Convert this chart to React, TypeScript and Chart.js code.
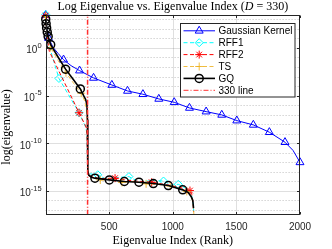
import React, { useEffect, useRef } from 'react';
import { Chart, registerables } from 'chart.js';
import { drawPoint } from 'chart.js/helpers';

Chart.register(...registerables);

// ---- axis settings ----
const X_MIN = 0;
const X_MAX = 2000;
const Y_MIN = 3.16e-18;
const Y_MAX = 3.16e3;
const xTicks = [500, 1000, 1500, 2000];
const yMajorExp = [0, -5, -10, -15];
const yMinorExp = [3, 2, 1, -1, -2, -3, -4, -6, -7, -8, -9, -11, -12, -13, -14, -16, -17];
const lineX = 330;

// ---- Gaussian Kernel ----
const gaussIdx = [1, 8, 15, 23, 60, 100, 141, 200, 267, 377, 521, 644, 765, 890, 1011, 1131, 1262, 1385, 1503, 1633, 1759, 1882, 1945, 2000];
const gaussVal = [2.8e3, 1.6e2, 3.2e1, 1.1e1, 1.1e0, 2.5e-1, 5.9e-2, 1.4e-2, 4.2e-3, 7.2e-4, 1.3e-4, 3.1e-5, 1.4e-5, 4.5e-6, 2.0e-6, 5.1e-7, 2.1e-7, 9.5e-8, 2.4e-8, 8.5e-9, 1.45e-9, 1.3e-10, 1.8e-11, 1.0e-12];
const gaussMark = [1, 0, 0, 1, 0, 0, 1, 0, 1, 1, 1, 1, 1, 1, 1, 1, 1, 1, 1, 1, 1, 1, 0, 1];

// ---- RFF1 ----
const rff1Idx = [1, 6, 15, 105, 263, 318, 326, 330, 345, 410, 480, 560, 655, 740, 830, 927, 990, 1043, 1100, 1145, 1160, 1164];
const rff1Val = [3.2e3, 2.0e2, 6.3e0, 6.3e-4, 1.6e-7, 4.0e-9, 6.3e-10, 1.6e-13, 6.3e-14, 5.0e-14, 1.6e-14, 2.5e-14, 3.2e-14, 7.9e-15, 1.26e-14, 1.1e-14, 4.0e-15, 5.0e-15, 2.0e-15, 5.0e-16, 6.3e-17, 7.9e-18];
const rff1Mark = [1, 0, 0, 1, 1, 0, 0, 0, 0, 1, 0, 0, 1, 0, 0, 1, 0, 1, 0, 0, 0, 0];

// ---- RFF2 ----
const rff2Idx = [1, 5, 12, 29, 263, 318, 326, 330, 340, 420, 546, 650, 750, 834, 950, 1050, 1135, 1150, 1160, 1164];
const rff2Val = [2.5e3, 2.0e2, 1.6e1, 4.5e-1, 1.6e-7, 5.0e-9, 1.0e-9, 1.26e-13, 4.0e-14, 2.0e-14, 2.2e-14, 1.26e-14, 1.0e-14, 8.3e-15, 4.5e-15, 2.5e-15, 1.1e-15, 4.0e-16, 5.0e-17, 6.3e-18];
const rff2Mark = [1, 0, 0, 0, 1, 0, 0, 0, 0, 0, 1, 0, 0, 1, 0, 0, 1, 0, 0, 0];

// ---- TS ----
const tsIdx = [1, 5, 12, 40, 100, 160, 220, 280, 305, 320, 327, 331, 335, 360, 430, 520, 600, 700, 790, 880, 980, 1060, 1110, 1145, 1160, 1166];
const tsVal = [2.0e3, 3.2e2, 4.0e1, 1.1e0, 4.5e-2, 2.5e-3, 2.0e-4, 1.8e-5, 3.2e-6, 5.0e-7, 3.2e-8, 1.0e-12, 5.0e-14, 2.5e-14, 1.4e-14, 1.8e-14, 7.9e-15, 1.0e-14, 5.6e-15, 5.0e-15, 3.2e-15, 1.6e-15, 8.9e-16, 3.2e-16, 4.0e-17, 3.2e-18];
const tsMark = [1, 0, 0, 1, 0, 1, 0, 1, 0, 0, 0, 0, 0, 0, 1, 0, 1, 0, 1, 0, 1, 0, 1, 0, 0, 0];

// ---- GQ ----
const gqIdx = [1, 4, 8, 13, 20, 40, 100, 157, 215, 273, 300, 315, 325, 329, 331, 333, 340, 360, 388, 501, 619, 734, 847, 965, 1078, 1120, 1145, 1157, 1163];
const gqVal = [1.0e3, 3.5e2, 1.26e2, 4.5e1, 1.6e1, 2.2e0, 1.0e-1, 6.0e-3, 5.6e-4, 5.0e-5, 9.3e-6, 4.0e-6, 1.0e-6, 3.2e-8, 1.0e-11, 1.26e-13, 4.5e-14, 2.8e-14, 2.2e-14, 1.45e-14, 9.8e-15, 8.3e-15, 6.0e-15, 3.7e-15, 1.3e-15, 7.1e-16, 2.5e-16, 1.0e-16, 1.6e-17];
const gqMark = [1, 1, 1, 1, 1, 1, 0, 1, 0, 1, 0, 0, 0, 0, 0, 0, 0, 0, 1, 1, 1, 1, 1, 1, 1, 0, 0, 0, 0];

const SANS = '"Liberation Sans", Arial, sans-serif';
const SERIF = '"Liberation Serif", "Times New Roman", serif';
const AXIS = 'rgb(38,38,38)';
const RED_LINE = '#ff3030';

const pts = (xs: number[], ys: number[]) => xs.map((x, i) => ({ x, y: ys[i] }));
const rad = (marks: number[], r: number) => (c: any) => (marks[c.dataIndex] ? r : 0);

type Entry = { label: string; color: string; dash: number[]; width: number; style: string | null; r: number; mw: number };
const legendEntries: Entry[] = [
  { label: 'Gaussian Kernel', color: '#0000ff', dash: [], width: 1, style: 'triangle', r: 4.6, mw: 1 },
  { label: 'RFF1', color: '#00ffff', dash: [4, 2.5], width: 1, style: 'rectRot', r: 4, mw: 1 },
  { label: 'RFF2', color: '#ff0000', dash: [4, 2.5], width: 1, style: 'star', r: 4, mw: 1 },
  { label: 'TS', color: 'rgba(237,177,32,0.85)', dash: [4, 2.5], width: 1, style: 'cross', r: 4, mw: 1 },
  { label: 'GQ', color: '#000000', dash: [], width: 1.6, style: 'circle', r: 4, mw: 1.5 },
  { label: '330 line', color: RED_LINE, dash: [5, 2, 1, 2], width: 1, style: null, r: 0, mw: 1 },
];

const decor = {
  id: 'decor',
  beforeDatasetsDraw(chart: any) {
    const { ctx, chartArea: a, scales } = chart;
    const x = scales.x;
    const y = scales.y;
    ctx.save();
    ctx.lineWidth = 1;
    ctx.strokeStyle = 'rgba(26,26,26,0.28)';
    ctx.setLineDash([1, 2]);
    for (const e of yMinorExp) {
      const py = Math.round(y.getPixelForValue(Math.pow(10, e))) + 0.5;
      ctx.beginPath();
      ctx.moveTo(a.left, py);
      ctx.lineTo(a.right, py);
      ctx.stroke();
    }
    ctx.setLineDash([]);
    ctx.strokeStyle = 'rgba(38,38,38,0.15)';
    for (const e of yMajorExp) {
      const py = Math.round(y.getPixelForValue(Math.pow(10, e))) + 0.5;
      ctx.beginPath();
      ctx.moveTo(a.left, py);
      ctx.lineTo(a.right, py);
      ctx.stroke();
    }
    for (const t of xTicks) {
      if (t >= X_MAX) continue;
      const px = Math.round(x.getPixelForValue(t)) + 0.5;
      ctx.beginPath();
      ctx.moveTo(px, a.top);
      ctx.lineTo(px, a.bottom);
      ctx.stroke();
    }
    ctx.restore();
  },
  afterDraw(chart: any) {
    const { ctx, chartArea: a, scales } = chart;
    const x = scales.x;
    const y = scales.y;
    ctx.save();
    ctx.strokeStyle = AXIS;
    ctx.lineWidth = 1;
    ctx.setLineDash([]);
    const L = Math.round(a.left) + 0.5, R = Math.round(a.right) - 0.5;
    const T = Math.round(a.top) + 0.5, B = Math.round(a.bottom) - 0.5;
    ctx.strokeRect(L, T, R - L, B - T);
    ctx.beginPath();
    for (const t of xTicks) {
      const px = Math.round(x.getPixelForValue(t)) + 0.5;
      ctx.moveTo(px, B); ctx.lineTo(px, B - 2.5);
      ctx.moveTo(px, T); ctx.lineTo(px, T + 2.5);
    }
    for (const e of yMajorExp) {
      const py = Math.round(y.getPixelForValue(Math.pow(10, e))) + 0.5;
      ctx.moveTo(L, py); ctx.lineTo(L + 2.5, py);
      ctx.moveTo(R, py); ctx.lineTo(R - 2.5, py);
    }
    ctx.stroke();

    ctx.fillStyle = AXIS;
    ctx.font = `10px ${SANS}`;
    ctx.textAlign = 'center';
    ctx.textBaseline = 'middle';
    for (const t of xTicks) {
      ctx.fillText(String(t), x.getPixelForValue(t), 227);
    }
    for (const e of yMajorExp) {
      const py = y.getPixelForValue(Math.pow(10, e));
      const sup = String(e);
      ctx.font = `7.5px ${SANS}`;
      const sw = ctx.measureText(sup).width;
      ctx.font = `10px ${SANS}`;
      const bw = ctx.measureText('10').width;
      const right = a.left - 4;
      ctx.textAlign = 'left';
      ctx.textBaseline = 'middle';
      ctx.fillText('10', right - sw - bw, py + 2.5);
      ctx.font = `7.5px ${SANS}`;
      ctx.fillText(sup, right - sw, py - 2.5);
    }

    ctx.fillStyle = '#000';
    ctx.textBaseline = 'alphabetic';
    const p1 = 'Log Eigenvalue vs. Eigenvalue Index (';
    const p2 = 'D';
    const p3 = ' = 330)';
    ctx.font = `12px ${SERIF}`;
    const w1 = ctx.measureText(p1).width;
    const w3 = ctx.measureText(p3).width;
    ctx.font = `italic 12px ${SERIF}`;
    const w2 = ctx.measureText(p2).width;
    const cx = (a.left + a.right) / 2;
    let tx = cx - (w1 + w2 + w3) / 2;
    ctx.textAlign = 'left';
    ctx.font = `12px ${SERIF}`;
    ctx.fillText(p1, tx, 10);
    tx += w1;
    ctx.font = `italic 12px ${SERIF}`;
    ctx.fillText(p2, tx, 10);
    tx += w2;
    ctx.font = `12px ${SERIF}`;
    ctx.fillText(p3, tx, 10);

    ctx.textAlign = 'center';
    ctx.fillText('Eigenvalue Index (Rank)', cx, 244);
    ctx.save();
    ctx.translate(9.5, 127);
    ctx.rotate(-Math.PI / 2);
    ctx.fillText('log(eigenvalue)', 0, 0);
    ctx.restore();

    const bx = 180.5, by = 23.5, bw2 = 114.5, bh = 73.5;
    ctx.fillStyle = '#fff';
    ctx.fillRect(bx, by, bw2, bh);
    ctx.strokeStyle = AXIS;
    ctx.lineWidth = 1;
    ctx.strokeRect(bx, by, bw2, bh);
    legendEntries.forEach((en, i) => {
      const ry = 30.8 + i * 11.9;
      ctx.strokeStyle = en.color;
      ctx.lineWidth = en.width;
      ctx.setLineDash(en.dash);
      ctx.beginPath();
      ctx.moveTo(183.5, ry);
      ctx.lineTo(215, ry);
      ctx.stroke();
      ctx.setLineDash([]);
      if (en.style) {
        ctx.fillStyle = 'rgba(0,0,0,0)';
        ctx.lineWidth = en.mw;
        drawPoint(ctx, { pointStyle: en.style, rotation: 0, radius: en.r, borderWidth: en.mw } as any, 199.2, ry);
      }
      ctx.fillStyle = '#000';
      ctx.font = `10px ${SANS}`;
      ctx.textAlign = 'left';
      ctx.textBaseline = 'middle';
      ctx.fillText(en.label, 218.5, ry + 0.5);
    });
    ctx.restore();
  },
};

function series(label: string, xs: number[], ys: number[], marks: number[], color: string, dash: number[], width: number, style: string, r: number, mw: number, order: number) {
  return {
    label,
    data: pts(xs, ys),
    borderColor: color,
    borderWidth: width,
    borderDash: dash,
    pointStyle: style,
    pointRadius: rad(marks, r),
    pointBorderColor: color,
    pointBackgroundColor: 'rgba(0,0,0,0)',
    pointBorderWidth: mw,
    fill: false,
    tension: 0,
    order,
    clip: false as any,
  };
}

export default function App() {
  const ref = useRef<HTMLCanvasElement | null>(null);
  useEffect(() => {
    if (!ref.current) return;
    const chart = new Chart(ref.current, {
      type: 'line',
      data: {
        datasets: [
          series('Gaussian Kernel', gaussIdx, gaussVal, gaussMark, '#0000ff', [], 1, 'triangle', 4.6, 1, 6),
          series('RFF1', rff1Idx, rff1Val, rff1Mark, '#00ffff', [4, 2.5], 1, 'rectRot', 4, 1, 5),
          series('RFF2', rff2Idx, rff2Val, rff2Mark, '#ff0000', [4, 2.5], 1, 'star', 4, 1, 4),
          series('TS', tsIdx, tsVal, tsMark, 'rgba(237,177,32,0.85)', [4, 2.5], 1, 'cross', 4, 1, 3),
          series('GQ', gqIdx, gqVal, gqMark, '#000000', [], 1.6, 'circle', 4, 1.5, 2),
          {
            label: '330 line',
            data: [{ x: lineX, y: Y_MIN }, { x: lineX, y: Y_MAX }],
            borderColor: RED_LINE,
            pointBorderColor: RED_LINE,
            backgroundColor: RED_LINE,
            borderWidth: 1.5,
            borderDash: [5, 2, 1, 2],
            pointRadius: 0,
            fill: false,
            order: 0,
          } as any,
        ],
      },
      options: {
        animation: false,
        responsive: true,
        maintainAspectRatio: false,
        devicePixelRatio: 1,
        events: [],
        layout: { padding: { left: 45.6, right: 32, top: 14.6, bottom: 34 } },
        plugins: { legend: { display: false }, tooltip: { enabled: false }, title: { display: false } },
        scales: {
          x: { type: 'linear', min: X_MIN, max: X_MAX, display: false },
          y: { type: 'logarithmic', min: Y_MIN, max: Y_MAX, display: false },
        },
      },
      plugins: [decor],
    });
    return () => chart.destroy();
  }, []);
  return (
    <div style={{ position: 'absolute', left: 0, top: 0, width: 332, height: 249, background: '#fff' }}>
      <canvas ref={ref} />
    </div>
  );
}
